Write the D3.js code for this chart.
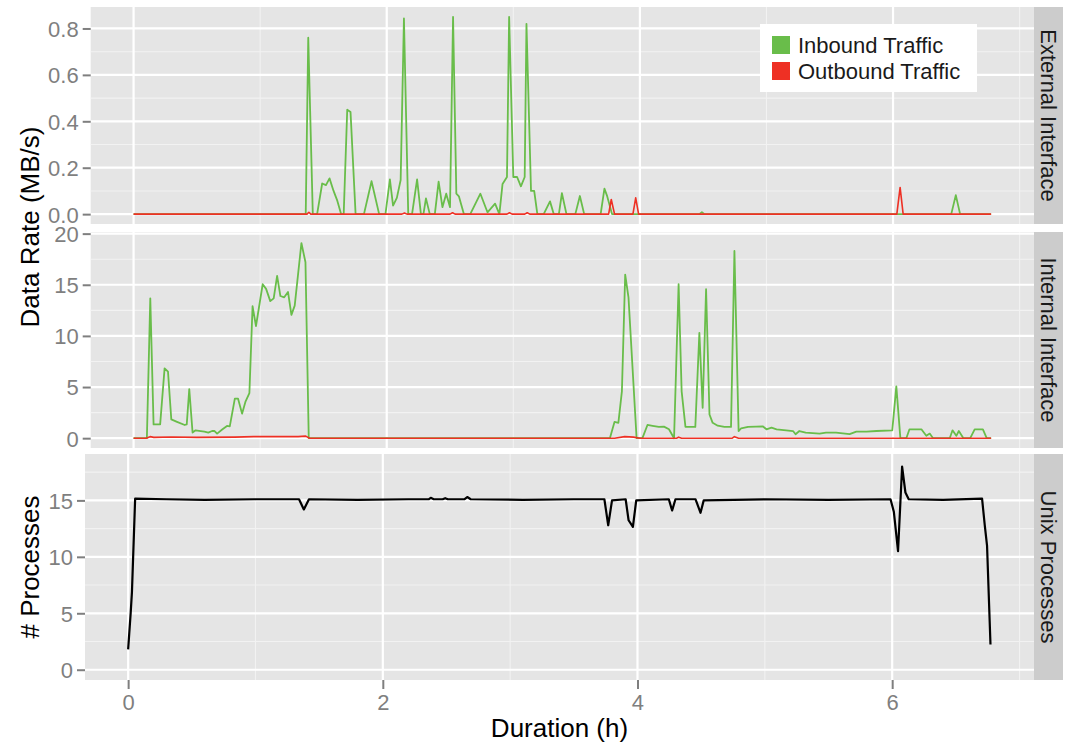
<!DOCTYPE html>
<html>
<head>
<meta charset="utf-8">
<script src="https://cdn.jsdelivr.net/npm/d3@7"></script>
<style>
  html, body { margin: 0; padding: 0; background: #ffffff; }
  svg { display: block; font-family: "Liberation Sans", Arial, Helvetica, sans-serif; }
</style>
</head>
<body>
<svg id="chart" width="1068" height="744"></svg>
<script>
// ---------------- data (hours, value) ----------------
const extInbound = [
  [0,0],[1.36,0],[1.38,0.76],[1.416,0],[1.45,0],[1.49,0.132],[1.52,0.125],[1.548,0.154],[1.58,0.10],[1.61,0.057],[1.64,0],
  [1.66,0],[1.688,0.45],[1.714,0.44],[1.754,0],[1.82,0],[1.88,0.142],[1.94,0],[1.99,0],[2.025,0.15],[2.05,0.037],[2.08,0.07],
  [2.11,0.147],[2.136,0.843],[2.17,0],[2.2,0],[2.24,0.15],[2.27,0],[2.29,0],[2.31,0.068],[2.34,0],[2.38,0],[2.41,0.14],
  [2.44,0.03],[2.47,0.088],[2.50,0.03],[2.524,0.85],[2.55,0.088],[2.57,0.077],[2.61,0],[2.66,0],[2.74,0.088],[2.796,0.008],
  [2.856,0.045],[2.89,0],[2.915,0.13],[2.95,0.16],[2.967,0.85],[3.0,0.16],[3.03,0.16],[3.06,0.12],[3.09,0.16],[3.104,0.82],
  [3.14,0.10],[3.165,0.10],[3.19,0],[3.24,0],[3.29,0.055],[3.32,0],[3.36,0],[3.384,0.09],[3.42,0],[3.49,0],[3.526,0.078],
  [3.56,0],[3.69,0],[3.72,0.11],[3.74,0.08],[3.78,0],[4.47,0],[4.49,0.008],[4.51,0],[6.46,0],[6.496,0.082],[6.53,0],[6.775,0]
];
const extOutbound = [
  [0,0],[1.37,0],[1.385,0.008],[1.40,0],[2.12,0],[2.14,0.005],[2.16,0],[2.50,0],[2.52,0.006],[2.54,0],[2.95,0],[2.97,0.006],
  [2.99,0],[3.09,0],[3.11,0.006],[3.13,0],[3.753,0],[3.774,0.063],[3.80,0],[3.945,0],[3.967,0.07],[3.99,0],
  [6.03,0],[6.056,0.115],[6.08,0],[6.775,0]
];
const intInbound = [
  [0,0],[0.105,0],[0.132,13.67],[0.158,1.35],[0.21,1.35],[0.245,6.83],[0.272,6.5],[0.298,1.84],[0.343,1.6],[0.404,1.29],
  [0.42,1.35],[0.44,4.8],[0.466,0.55],[0.49,0.77],[0.53,0.7],[0.56,0.64],[0.59,0.55],[0.62,0.7],[0.64,0.7],[0.66,0.45],
  [0.70,0.85],[0.738,1.2],[0.76,1.15],[0.80,3.87],[0.825,3.87],[0.857,2.4],[0.885,3.6],[0.915,4.4],[0.94,12.9],[0.967,10.96],
  [1.02,15.05],[1.047,14.6],[1.08,13.4],[1.107,13.67],[1.134,15.86],[1.16,13.9],[1.19,13.77],[1.22,14.3],[1.247,12.06],
  [1.273,12.96],[1.326,19.08],[1.358,17.2],[1.384,0],
  [3.763,0],[3.80,1.6],[3.83,1.5],[3.858,4.58],[3.884,16.0],[3.91,13.77],[3.974,0],[4.02,0],[4.06,1.29],[4.10,1.2],
  [4.15,1.1],[4.19,1.13],[4.23,0.87],[4.27,0],[4.306,15.05],[4.33,4.58],[4.36,1.1],[4.40,1.1],[4.438,1.1],[4.47,10.3],
  [4.496,2.97],[4.523,14.57],[4.55,2.32],[4.575,1.5],[4.615,1.22],[4.668,1.1],[4.72,1.1],[4.747,18.3],[4.78,0.7],[4.80,0.97],
  [4.855,1.1],[4.918,1.13],[4.97,1.16],[5.0,0.87],[5.04,1.03],[5.08,0.87],[5.156,0.77],[5.21,0.7],[5.23,0.39],[5.26,0.7],
  [5.31,0.55],[5.42,0.45],[5.47,0.55],[5.55,0.55],[5.657,0.39],[5.71,0.64],[5.79,0.64],[5.87,0.7],[5.994,0.77],[6.026,5.06],
  [6.058,0],[6.105,0],[6.13,0.87],[6.224,0.87],[6.263,0.23],[6.29,0.45],[6.316,0],[6.448,0],[6.47,0.77],[6.50,0.23],
  [6.52,0.7],[6.556,0],[6.61,0],[6.645,0.87],[6.71,0.87],[6.74,0],[6.775,0]
];
const intOutbound = [
  [0,0],[0.10,0],[0.13,0.15],[0.16,0.08],[0.30,0.12],[0.50,0.08],[0.80,0.10],[0.95,0.15],[1.10,0.15],[1.30,0.15],
  [1.36,0.2],[1.39,0],[3.80,0],[3.88,0.15],[3.95,0.10],[4.0,0],[4.29,0],[4.306,0.1],[4.33,0],[4.73,0],[4.747,0.15],
  [4.78,0],[6.775,0]
];
const processes = [
  [0,1.8],[0.02,5.03],[0.03,6.9],[0.055,15.15],[0.3,15.1],[0.6,15.05],[1.0,15.1],[1.342,15.1],[1.38,14.2],[1.42,15.1],
  [1.8,15.05],[2.2,15.1],[2.36,15.1],[2.376,15.23],[2.40,15.1],[2.47,15.1],[2.49,15.2],[2.51,15.1],[2.64,15.1],
  [2.663,15.3],[2.69,15.1],[3.1,15.05],[3.5,15.1],[3.74,15.1],[3.77,12.8],[3.80,15.0],[3.907,15.1],[3.93,13.24],
  [3.964,12.65],[3.99,15.0],[4.246,15.1],[4.272,14.1],[4.298,15.1],[4.456,15.1],[4.495,13.9],[4.52,15.0],
  [5.0,15.1],[5.5,15.05],[5.987,15.1],[6.013,14.0],[6.046,10.5],[6.078,18.0],[6.104,15.7],[6.13,15.1],[6.4,15.05],
  [6.706,15.15],[6.727,12.8],[6.745,11.0],[6.772,2.24]
];

const xTicks = [0, 2, 4, 6];
const xMinor = [1, 3, 5, 7];
const extTicks = [0, 0.2, 0.4, 0.6, 0.8];
const extMinor = [0.1, 0.3, 0.5, 0.7];
const intTicks = [0, 5, 10, 15, 20];
const intMinor = [2.5, 7.5, 12.5, 17.5];
const procTicks = [0, 5, 10, 15];
const procMinor = [2.5, 7.5, 12.5, 17.5];
const seriesNames = ["Inbound Traffic", "Outbound Traffic"];
const stripLabels = ["External Interface", "Internal Interface", "Unix Processes"];

// ---------------- styling ----------------
const GREEN = "#69BD4A", RED = "#EE3024";
const PANEL_BG = "#E5E5E5", STRIP_BG = "#CCCCCC", MINOR = "#F2F2F2", TICK = "#7F7F7F";

const svg = d3.select("#chart");

function expand(lo, hi) { const r = hi - lo; return [lo - r * 0.05, hi + r * 0.05]; }
const xDom = expand(0, 6.775);

function panel(cfg) {
  const { left, right, top, bottom, yDomain, yTicks, yMinor, fmt, strip, lines, showX } = cfg;
  const x = d3.scaleLinear().domain(xDom).range([left, right]);
  const y = d3.scaleLinear().domain(yDomain).range([bottom, top]);
  const g = svg.append("g");
  g.append("rect").attr("x", left).attr("y", top).attr("width", right - left).attr("height", bottom - top).attr("fill", PANEL_BG);
  // minor grid
  g.selectAll(null).data(yMinor.filter(v => v > yDomain[0] && v < yDomain[1])).join("line")
    .attr("x1", left).attr("x2", right).attr("y1", d => y(d)).attr("y2", d => y(d))
    .attr("stroke", MINOR).attr("stroke-width", 1.1);
  g.selectAll(null).data(xMinor.filter(v => v > xDom[0] && v < xDom[1])).join("line")
    .attr("y1", top).attr("y2", bottom).attr("x1", d => x(d)).attr("x2", d => x(d))
    .attr("stroke", MINOR).attr("stroke-width", 1.1);
  // major grid
  g.selectAll(null).data(yTicks).join("line")
    .attr("x1", left).attr("x2", right).attr("y1", d => y(d)).attr("y2", d => y(d))
    .attr("stroke", "#ffffff").attr("stroke-width", 2.2);
  g.selectAll(null).data(xTicks).join("line")
    .attr("y1", top).attr("y2", bottom).attr("x1", d => x(d)).attr("x2", d => x(d))
    .attr("stroke", "#ffffff").attr("stroke-width", 2.2);
  // lines
  const line = d3.line().x(d => x(d[0])).y(d => y(d[1]));
  lines.forEach(l => {
    g.append("path").datum(l.data).attr("d", line).attr("fill", "none")
      .attr("stroke", l.color).attr("stroke-width", l.width).attr("stroke-linejoin", "round");
  });
  // y axis
  const ya = d3.axisLeft(y).tickValues(yTicks).tickFormat(fmt).tickSize(8).tickPadding(4);
  const yg = g.append("g").attr("transform", `translate(${left},0)`).call(ya);
  yg.select(".domain").remove();
  yg.selectAll(".tick line").attr("stroke", TICK).attr("stroke-width", 2);
  yg.selectAll(".tick text").attr("fill", TICK).style("font-size", "22px").attr("dy", "0.36em");
  if (showX) {
    const xa = d3.axisBottom(x).tickValues(xTicks).tickFormat(d3.format("d")).tickSize(9).tickPadding(5);
    const xg = g.append("g").attr("transform", `translate(0,${bottom})`).call(xa);
    xg.select(".domain").remove();
    xg.selectAll(".tick line").attr("stroke", TICK).attr("stroke-width", 2);
    xg.selectAll(".tick text").attr("fill", TICK).style("font-size", "22px");
  }
  // strip
  g.append("rect").attr("x", right).attr("y", top).attr("width", 29).attr("height", bottom - top).attr("fill", STRIP_BG);
  g.append("text").attr("transform", `translate(${right + 14.5},${(top + bottom) / 2}) rotate(90)`)
    .attr("text-anchor", "middle").attr("dy", "0.36em").attr("fill", "#1a1a1a").style("font-size", "22px").text(strip);
  return { x, y };
}

panel({ left: 90.7, right: 1034, top: 7, bottom: 224, yDomain: expand(0, 0.85), yTicks: extTicks, yMinor: extMinor,
  fmt: d3.format(".1f"), strip: stripLabels[0], showX: false,
  lines: [{ data: extInbound, color: GREEN, width: 1.8 }, { data: extOutbound, color: RED, width: 1.6 }] });
panel({ left: 90.7, right: 1034, top: 232, bottom: 448, yDomain: expand(0, 19.2), yTicks: intTicks, yMinor: intMinor,
  fmt: d3.format("d"), strip: stripLabels[1], showX: false,
  lines: [{ data: intInbound, color: GREEN, width: 1.8 }, { data: intOutbound, color: RED, width: 1.6 }] });
panel({ left: 85, right: 1034, top: 454, bottom: 680, yDomain: expand(0, 18.2), yTicks: procTicks, yMinor: procMinor,
  fmt: d3.format("d"), strip: stripLabels[2], showX: true,
  lines: [{ data: processes, color: "#000000", width: 2.2 }] });

// axis titles
svg.append("text").attr("transform", "translate(30,227) rotate(-90)").attr("text-anchor", "middle")
  .attr("dy", "0.36em").style("font-size", "26px").attr("fill", "#000").text("Data Rate (MB/s)");
svg.append("text").attr("transform", "translate(30,567) rotate(-90)").attr("text-anchor", "middle")
  .attr("dy", "0.36em").style("font-size", "26px").attr("fill", "#000").text("# Processes");
svg.append("text").attr("x", 559.5).attr("y", 737).attr("text-anchor", "middle")
  .style("font-size", "26px").attr("fill", "#000").text("Duration (h)");

// legend
const lg = svg.append("g");
lg.append("rect").attr("x", 760).attr("y", 24).attr("width", 217).attr("height", 68).attr("fill", "#ffffff");
const colors = [GREEN, RED];
seriesNames.forEach((name, i) => {
  lg.append("rect").attr("x", 772).attr("y", 36 + i * 26).attr("width", 18).attr("height", 18).attr("fill", colors[i]);
  lg.append("text").attr("x", 798).attr("y", 45 + i * 26).attr("dy", "0.36em").style("font-size", "22px")
    .attr("fill", "#1a1a1a").text(name);
});
</script>
</body>
</html>
